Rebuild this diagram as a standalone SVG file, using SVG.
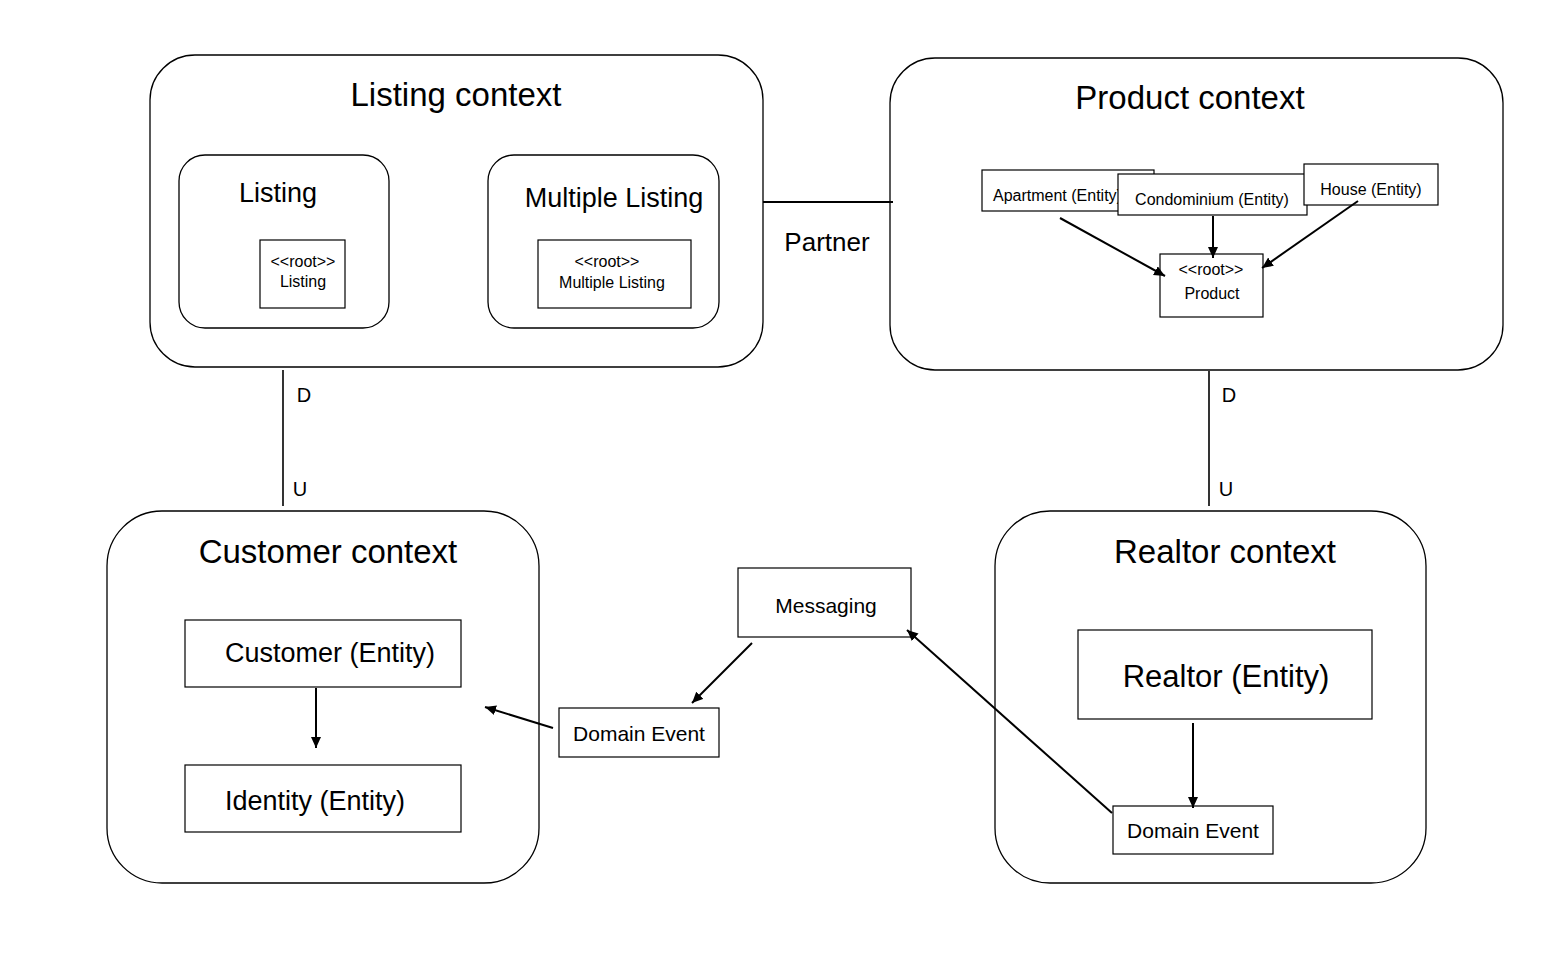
<svg xmlns="http://www.w3.org/2000/svg" width="1564" height="954" viewBox="0 0 1564 954">
<style>
text{font-family:"Liberation Sans",Arial,Helvetica,sans-serif;fill:#000;text-anchor:middle}
.box{fill:#fff;stroke:#000;stroke-width:1.2}
.ctx{fill:#fff;stroke:#000;stroke-width:1.3}
.t33{font-size:33px}
.t27{font-size:27px}
.t31{font-size:31px}
.t21{font-size:21px}
.t16{font-size:16px}
.t20{font-size:20px}
.edge{fill:none;stroke:#000;stroke-width:2}
.line{fill:none;stroke:#000;stroke-width:1.6}
</style>
<defs>
<marker id="arr" markerUnits="userSpaceOnUse" markerWidth="12" markerHeight="11" refX="11" refY="5" orient="auto">
<path d="M0,0 L11,5 L0,10 z" fill="#000"/>
</marker>
</defs>
<rect width="1564" height="954" fill="#fff"/>

<g id="listing-context">
<rect class="ctx" x="150" y="55" width="613" height="312" rx="45" ry="45"/>
<text class="t33" x="456" y="106">Listing context</text>
</g>
<g id="listing">
<rect class="ctx" x="179" y="155" width="210" height="173" rx="26" ry="26"/>
<text class="t27" x="278" y="202">Listing</text>
</g>
<g id="listing-root">
<rect class="box" x="260" y="240" width="85" height="68"/>
<text class="t16" x="303" y="267">&lt;&lt;root&gt;&gt;</text>
<text class="t16" x="303" y="287">Listing</text>
</g>
<g id="multiple-listing">
<rect class="ctx" x="488" y="155" width="231" height="173" rx="26" ry="26"/>
<text class="t27" x="614" y="207">Multiple Listing</text>
</g>
<g id="multiple-listing-root">
<rect class="box" x="538" y="240" width="153" height="68"/>
<text class="t16" x="607" y="267">&lt;&lt;root&gt;&gt;</text>
<text class="t16" x="612" y="288">Multiple Listing</text>
</g>

<g id="product-context">
<rect class="ctx" x="890" y="58" width="613" height="312" rx="45" ry="45"/>
<text class="t33" x="1190" y="109">Product context</text>
</g>
<g id="apartment">
<rect class="box" x="982" y="170" width="172" height="41"/>
<text class="t16" x="993" y="201" style="text-anchor:start">Apartment (Entity)</text>
</g>
<g id="condominium">
<rect class="box" x="1118" y="174" width="189" height="41"/>
<text class="t16" x="1212" y="205">Condominium (Entity)</text>
</g>
<g id="house">
<rect class="box" x="1304" y="164" width="134" height="41"/>
<text class="t16" x="1371" y="195">House (Entity)</text>
</g>
<g id="product-root">
<rect class="box" x="1160" y="254" width="103" height="63"/>
<text class="t16" x="1211" y="275">&lt;&lt;root&gt;&gt;</text>
<text class="t16" x="1212" y="299">Product</text>
</g>

<g id="customer-context">
<rect class="ctx" x="107" y="511" width="432" height="372" rx="55" ry="55"/>
<text class="t33" x="328" y="563">Customer context</text>
</g>
<g id="customer-entity">
<rect class="box" x="185" y="620" width="276" height="67"/>
<text class="t27" x="330" y="662">Customer (Entity)</text>
</g>
<g id="identity-entity">
<rect class="box" x="185" y="765" width="276" height="67"/>
<text class="t27" x="315" y="810">Identity (Entity)</text>
</g>

<g id="realtor-context">
<rect class="ctx" x="995" y="511" width="431" height="372" rx="55" ry="55"/>
<text class="t33" x="1225" y="563">Realtor context</text>
</g>
<g id="realtor-entity">
<rect class="box" x="1078" y="630" width="294" height="89"/>
<text class="t31" x="1226" y="687">Realtor (Entity)</text>
</g>
<g id="realtor-domain-event">
<rect class="box" x="1113" y="806" width="160" height="48"/>
<text class="t21" x="1193" y="838">Domain Event</text>
</g>

<g id="messaging">
<rect class="box" x="738" y="568" width="173" height="69"/>
<text class="t21" x="826" y="613">Messaging</text>
</g>
<g id="customer-domain-event">
<rect class="box" x="559" y="708" width="160" height="49"/>
<text class="t21" x="639" y="741">Domain Event</text>
</g>

<g id="connectors">
<line class="edge" x1="763" y1="202" x2="893" y2="202"/>
<text class="t27" x="827" y="251" style="font-size:26px">Partner</text>
<line class="line" x1="283" y1="370" x2="283" y2="506"/>
<text class="t20" x="304" y="402">D</text>
<text class="t20" x="300" y="496">U</text>
<line class="line" x1="1209" y1="371" x2="1209" y2="506"/>
<text class="t20" x="1229" y="402">D</text>
<text class="t20" x="1226" y="496">U</text>
<line class="edge" x1="1060" y1="218" x2="1165" y2="276" marker-end="url(#arr)"/>
<line class="edge" x1="1213" y1="216" x2="1213" y2="258" marker-end="url(#arr)"/>
<line class="edge" x1="1358" y1="201" x2="1262" y2="268" marker-end="url(#arr)"/>
<line class="edge" x1="316" y1="688" x2="316" y2="748" marker-end="url(#arr)"/>
<line class="edge" x1="1193" y1="723" x2="1193" y2="808" marker-end="url(#arr)"/>
<line class="edge" x1="1112" y1="813" x2="907" y2="630" marker-end="url(#arr)"/>
<line class="edge" x1="752" y1="643" x2="692" y2="703" marker-end="url(#arr)"/>
<line class="edge" x1="553" y1="728" x2="485" y2="707" marker-end="url(#arr)"/>
</g>
</svg>
